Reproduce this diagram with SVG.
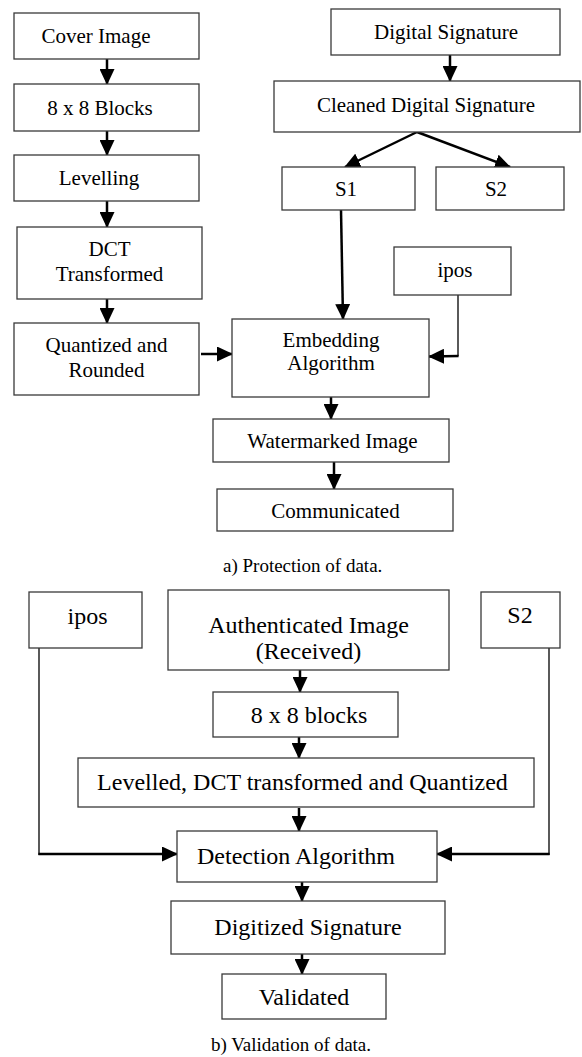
<svg xmlns="http://www.w3.org/2000/svg" width="582" height="1057" viewBox="0 0 582 1057">
<style>
.box{fill:#fff;stroke:#3a3a3a;stroke-width:1.3}
.t{font-family:"Liberation Serif","Times New Roman",serif;font-size:21px;fill:#000;text-anchor:middle}
.tb{font-family:"Liberation Serif","Times New Roman",serif;font-size:24px;fill:#000;text-anchor:middle}
.cap{font-family:"Liberation Serif","Times New Roman",serif;font-size:19px;fill:#000}
.a{fill:none;stroke:#000;stroke-width:2.5;marker-end:url(#ah)}
.thin{fill:none;stroke:#000;stroke-width:1.3}
</style>
<defs>
<marker id="ah" viewBox="0 0 16 15" refX="15" refY="7.5" markerWidth="16" markerHeight="15" markerUnits="userSpaceOnUse" orient="auto">
<path d="M0,0 L16,7.5 L0,15 Z" fill="#000"/>
</marker>
</defs>
<rect width="582" height="1057" fill="#fff"/>

<g id="connectors">
<line class="a" x1="107" y1="59" x2="107" y2="84"/>
<line class="a" x1="107" y1="131" x2="107" y2="155"/>
<line class="a" x1="107" y1="201" x2="107" y2="227"/>
<line class="a" x1="107" y1="299" x2="107" y2="323"/>
<line class="a" x1="450" y1="55" x2="450" y2="81"/>
<line class="a" x1="417" y1="132" x2="345" y2="167"/>
<line class="a" x1="417" y1="132" x2="510" y2="167"/>
<line class="a" x1="341" y1="210" x2="343" y2="319"/>
<line class="a" x1="201" y1="354" x2="232" y2="354"/>
<line class="thin" x1="458" y1="295" x2="458" y2="356"/>
<line class="a" x1="458.6" y1="356" x2="429" y2="356.5"/>
<line class="a" x1="331" y1="397" x2="331" y2="419"/>
<line class="a" x1="334" y1="462" x2="334" y2="489"/>

<line class="a" x1="300" y1="670" x2="300" y2="692"/>
<line class="a" x1="299" y1="737" x2="299" y2="758"/>
<line class="a" x1="299" y1="808" x2="299" y2="831"/>
<line class="a" x1="302" y1="882" x2="302" y2="901"/>
<line class="a" x1="302" y1="954" x2="302" y2="974"/>
<line class="thin" x1="39" y1="648" x2="39" y2="855"/>
<line class="a" x1="38.4" y1="854" x2="177" y2="854"/>
<line class="thin" x1="549" y1="648" x2="549" y2="855"/>
<line class="a" x1="549.6" y1="854" x2="437" y2="854"/>
</g>

<g id="cover"><rect class="box" x="14" y="13" width="185" height="46"/><text class="t" x="96" y="43">Cover Image</text></g>
<g id="blocks"><rect class="box" x="14" y="84" width="185" height="47"/><text class="t" x="100" y="115">8 x 8 Blocks</text></g>
<g id="levelling"><rect class="box" x="14" y="155" width="185" height="46"/><text class="t" x="99" y="185">Levelling</text></g>
<g id="dct"><rect class="box" x="17" y="227" width="185" height="72"/><text class="t" x="109.5" y="256">DCT</text><text class="t" x="109.5" y="281">Transformed</text></g>
<g id="quantized"><rect class="box" x="14" y="323" width="185" height="72"/><text class="t" x="106.5" y="352">Quantized and</text><text class="t" x="106.5" y="377">Rounded</text></g>
<g id="digsig"><rect class="box" x="331" y="9" width="229" height="46"/><text class="t" x="446" y="39">Digital Signature</text></g>
<g id="cleaned"><rect class="box" x="274" y="81" width="306" height="51"/><text class="t" x="426" y="112">Cleaned Digital Signature</text></g>
<g id="s1"><rect class="box" x="282" y="167" width="133" height="43"/><text class="t" x="346" y="196">S1</text></g>
<g id="s2"><rect class="box" x="436" y="167" width="128" height="43"/><text class="t" x="496" y="196">S2</text></g>
<g id="ipos1"><rect class="box" x="394" y="247" width="117" height="48"/><text class="t" x="455" y="277">ipos</text></g>
<g id="embedding"><rect class="box" x="232" y="319" width="197" height="78"/><text class="t" x="331" y="347">Embedding</text><text class="t" x="331" y="370">Algorithm</text></g>
<g id="watermarked"><rect class="box" x="213" y="419" width="236" height="43"/><text class="t" x="332.5" y="448">Watermarked Image</text></g>
<g id="communicated"><rect class="box" x="217" y="489" width="236" height="42"/><text class="t" x="335.5" y="518">Communicated</text></g>
<text class="cap" x="223" y="572">a) Protection of data.</text>

<g id="ipos2"><rect class="box" x="29" y="592" width="113" height="56"/><text class="tb" x="87.5" y="624">ipos</text></g>
<g id="authenticated"><rect class="box" x="168" y="590" width="281" height="80"/><text class="tb" x="308.5" y="633">Authenticated Image</text><text class="tb" x="308.5" y="659">(Received)</text></g>
<g id="s2b"><rect class="box" x="481" y="592" width="79" height="56"/><text class="tb" x="520" y="623">S2</text></g>
<g id="blocks2"><rect class="box" x="213" y="692" width="185" height="45"/><text class="tb" x="309" y="723">8 x 8 blocks</text></g>
<g id="levelled"><rect class="box" x="78" y="758" width="456" height="49"/><text class="tb" x="302.5" y="790">Levelled, DCT transformed and Quantized</text></g>
<g id="detection"><rect class="box" x="177" y="831" width="260" height="51"/><text class="tb" x="296" y="864">Detection Algorithm</text></g>
<g id="digitized"><rect class="box" x="171" y="901" width="274" height="53"/><text class="tb" x="308" y="935">Digitized Signature</text></g>
<g id="validated"><rect class="box" x="222" y="974" width="164" height="45"/><text class="tb" x="304" y="1005">Validated</text></g>
<text class="cap" x="211" y="1051">b) Validation of data.</text>
</svg>
